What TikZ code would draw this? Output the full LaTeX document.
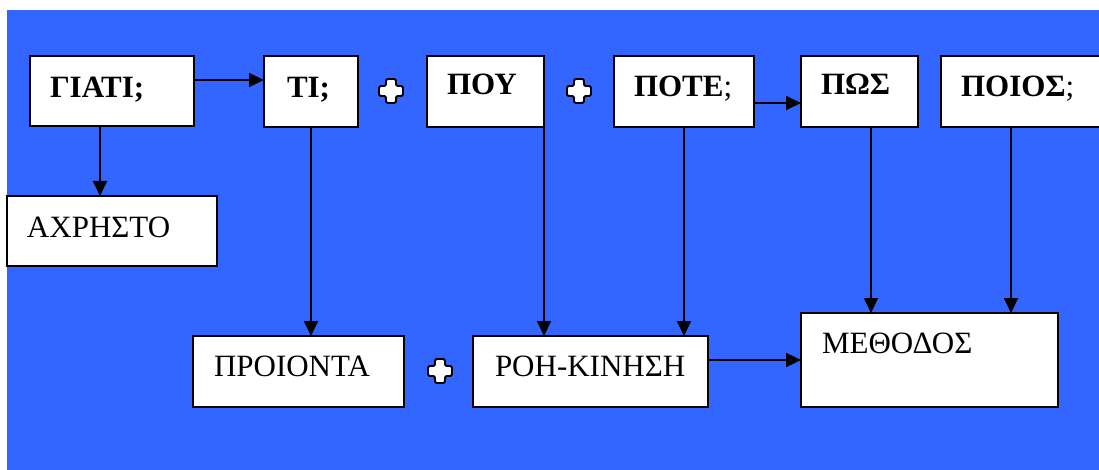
\documentclass[tikz,border=0pt]{standalone}
\usepackage{fontspec}
\setmainfont{Liberation Serif}
\usetikzlibrary{arrows.meta}
\definecolor{bgblue}{HTML}{3366FF}
\tikzset{
  box/.style={draw=black, fill=white, line width=2pt, inner sep=0pt, outer sep=0pt, anchor=north west},
  lbl/.style={inner sep=0pt, outer sep=0pt, anchor=base west, font=\fontsize{31}{36}\selectfont},
  arr/.style={line width=1.8pt, -{Triangle[length=15pt,width=14pt]}},
  plusshape/.style={draw=black, fill=white, line width=1.8pt, rounded corners=1.5pt},
}
\newcommand{\plussign}[2]{%
  \draw[plusshape] (#1,#2) ++(-5,-12) -- ++(10,0) -- ++(0,7) -- ++(7,0) -- ++(0,10) -- ++(-7,0) -- ++(0,7) -- ++(-10,0) -- ++(0,-7) -- ++(-7,0) -- ++(0,-10) -- ++(7,0) -- cycle;}
\begin{document}
\begin{tikzpicture}[x=1pt,y=-1pt]
\useasboundingbox (0,0) rectangle (1099,470);
\clip (0,0) rectangle (1099,470);
\fill[bgblue] (7,10) rectangle (1110,480);
% boxes
\node[box, minimum width=164pt, minimum height=70pt] (giati) at (30,56) {};
\node[box, minimum width=94pt, minimum height=71pt] (ti) at (264,56) {};
\node[box, minimum width=117pt, minimum height=71pt] (pou) at (427,56) {};
\node[box, minimum width=140pt, minimum height=71pt] (pote) at (614,56) {};
\node[box, minimum width=117pt, minimum height=71pt] (pos) at (801,56) {};
\node[box, minimum width=170pt, minimum height=71pt] (poios) at (941,56) {};
\node[box, minimum width=210pt, minimum height=70pt] (axr) at (7,196) {};
\node[box, minimum width=211pt, minimum height=71pt] (proi) at (193,336) {};
\node[box, minimum width=235pt, minimum height=71pt] (roh) at (473,336) {};
\node[box, minimum width=257pt, minimum height=94pt] (meth) at (801,313) {};
% labels
\node[lbl] (tgiati) at (50,98) {\textbf{ΓΙΑΤΙ;}};
\node[lbl] (tti) at (287,98) {\textbf{ΤΙ;}};
\node[lbl] (tpou) at (447,95) {\textbf{ΠΟΥ}};
\node[lbl] (tpote) at (634,97) {\textbf{ΠΟΤΕ};};
\node[lbl] (tpos) at (821,95) {\textbf{ΠΩΣ}};
\node[lbl] (tpoios) at (961,97) {\textbf{ΠΟΙΟΣ};};
\node[lbl] (taxr) at (27,237) {ΑΧΡΗΣΤΟ};
\node[lbl] (tproi) at (214,376) {ΠΡΟΙΟΝΤΑ};
\node[lbl] (troh) at (495,376) {ΡΟΗ-ΚΙΝΗΣΗ};
\node[lbl] (tmeth) at (822,353) {ΜΕΘΟΔΟΣ};
% plus signs
\plussign{391}{91}
\plussign{579}{91}
\plussign{440}{371}
% connectors
\coordinate (g1) at ([yshift=-24pt]giati.north east);
\draw[arr] (g1) -- (g1 -| ti.west);
\coordinate (g2) at ([xshift=70pt]giati.south west);
\draw[arr] (g2) -- (g2 |- axr.north);
\draw[arr] (ti.south) -- (ti.south |- proi.north);
\draw[arr] (pou.south east) -- (pou.south east |- roh.north);
\draw[arr] (pote.south) -- (pote.south |- roh.north);
\coordinate (p1) at ([yshift=24pt]pote.south east);
\draw[arr] (p1) -- (p1 -| pos.west);
\coordinate (p2) at ([xshift=70pt]pos.south west);
\draw[arr] (p2) -- (p2 |- meth.north);
\coordinate (p3) at ([xshift=70pt]poios.south west);
\draw[arr] (p3) -- (p3 |- meth.north);
\coordinate (r1) at ([yshift=-24pt]roh.north east);
\draw[arr] (r1) -- (r1 -| meth.west);
\end{tikzpicture}
\end{document}
